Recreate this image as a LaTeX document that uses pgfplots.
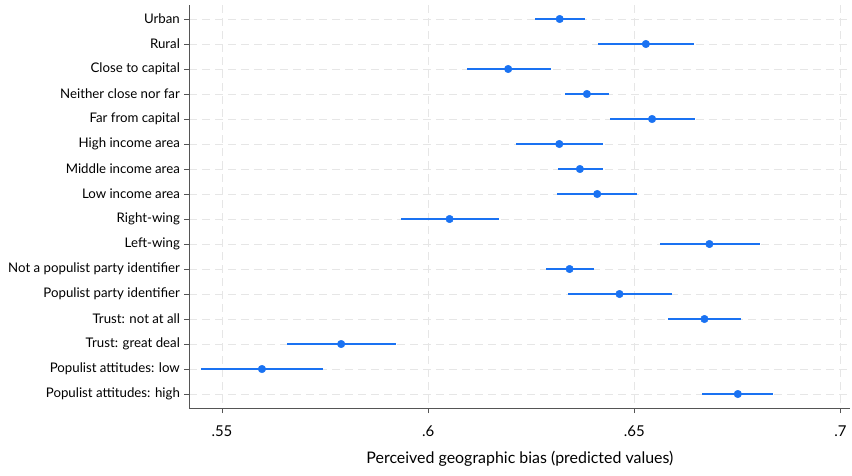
\documentclass[border=0pt]{standalone}
\usepackage{pgfplots}
\pgfplotsset{compat=1.18}
\usepackage{pgfplotstable}
\usepackage{fontspec}
\setmainfont{Lato}
\definecolor{bluept}{HTML}{1A72F2}
\definecolor{gridc}{HTML}{E6E6E6}
\definecolor{axc}{HTML}{555555}
\pgfplotstableread{
y  m      lo     hi
1  0.6319 0.6259 0.6380
2  0.6528 0.6413 0.6644
3  0.6194 0.6094 0.6297
4  0.6385 0.6332 0.6439
5  0.6543 0.6442 0.6646
6  0.6318 0.6212 0.6425
7  0.6368 0.6315 0.6423
8  0.6410 0.6313 0.6506
9  0.6052 0.5933 0.6171
10 0.6682 0.6563 0.6805
11 0.6343 0.6286 0.6403
12 0.6464 0.6338 0.6591
13 0.6670 0.6582 0.6759
14 0.5789 0.5657 0.5922
15 0.5597 0.5449 0.5744
16 0.6751 0.6665 0.6837
}\datatable
\begin{document}
\begin{tikzpicture}
\begin{axis}[
  scale only axis,
  width=661bp, height=403bp,
  xmin=0.5421, xmax=0.7024,
  ymin=0.44, ymax=16.56,
  y dir=reverse,
  axis x line*=bottom, axis y line*=left,
  axis line style={axc, line width=0.9pt},
  xtick={0.55,0.6,0.65,0.7},
  xticklabels={.55,.6,.65,.7},
  ytick={1,...,16},
  yticklabels={Urban,Rural,Close to capital,Neither close nor far,Far from capital,High income area,Middle income area,Low income area,Right-wing,Left-wing,Not a populist party identifier,Populist party identifier,Trust: not at all,Trust: great deal,Populist attitudes: low,Populist attitudes: high},
  tick align=outside,
  major tick length=5bp,
  tick style={axc, line width=0.8pt},
  grid=major,
  major grid style={gridc, line width=0.9pt, dash pattern=on 8bp off 5bp},
  tick label style={font=\fontsize{13.3}{15}\selectfont, text=black},
  yticklabel style={xshift=-1bp},
  xticklabel style={font=\fontsize{15}{17}\selectfont, yshift=-9bp},
  xlabel={Perceived geographic bias (predicted values)},
  xlabel style={font=\fontsize{16}{18}\selectfont, yshift=-8bp},
  clip=false,
]
\addplot[only marks, mark=*, mark size=3.8bp, bluept, mark options={fill=bluept, draw=bluept},
  error bars/.cd, x dir=both, x explicit, error bar style={bluept, line width=1.8bp}, error mark=none]
  table[x=m, y=y, x error plus expr=\thisrow{hi}-\thisrow{m}, x error minus expr=\thisrow{m}-\thisrow{lo}] {\datatable};
\path (rel axis cs:-0.2865,-0.1663) rectangle (rel axis cs:1.0024,1.0124);
\end{axis}
\end{tikzpicture}
\end{document}
